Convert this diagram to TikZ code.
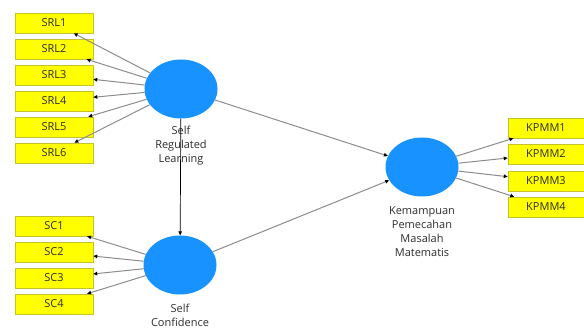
\documentclass[tikz,border=0pt]{standalone}
\usepackage{fontspec}
\setmainfont{Open Sans}
\usepackage{tikz}
\usetikzlibrary{arrows.meta,shapes.geometric}
\definecolor{lvblue}{RGB}{24,146,255}
\definecolor{indyellow}{RGB}{255,255,0}
\definecolor{indedge}{RGB}{196,196,40}
\definecolor{pathgray}{RGB}{140,140,140}
\definecolor{txtgray}{RGB}{45,45,45}

\begin{document}
\begin{tikzpicture}[x=1pt, y=-1pt,
      every node/.style={font=\fontsize{11}{14}\selectfont, text=txtgray},
      indbox/.style={draw=indedge, fill=indyellow, line width=0.5pt, minimum width=78pt, minimum height=20pt, inner sep=0pt},
      latent/.style={ellipse, fill=lvblue, minimum width=73pt, minimum height=59pt, inner sep=0pt},
      lvlabel/.style={align=center, inner sep=0pt},
      load/.style={-{Triangle[length=4pt, width=3.5pt, color=black]}, draw=pathgray, line width=1pt},
      inner/.style={-{Triangle[length=4pt, width=3.5pt, color=black]}, draw=pathgray, line width=1pt}
    ]
      \useasboundingbox (0,0) rectangle (584,331);

      % Latent variables
      \node[latent] (srl) at (181,89) {};
      \node[latent] (sc) at (180,265) {};
      \node[latent] (kpmm) at (422,167) {};

      % Labels under the latents
      \node[lvlabel] (srllab) at (181,146) {Self\\Regulated\\Learning};
      \node[lvlabel] (sclab) at (180,315) {Self\\Confidence};
      \node[lvlabel] (kpmmlab) at (422,232) {Kemampuan\\Pemecahan\\Masalah\\Matematis};

      % Indicators: Self Regulated Learning
      \node[indbox] (srl1) at (54,23) {SRL1};
      \node[indbox] (srl2) at (54,49) {SRL2};
      \node[indbox] (srl3) at (54,75) {SRL3};
      \node[indbox] (srl4) at (54,101) {SRL4};
      \node[indbox] (srl5) at (54,127) {SRL5};
      \node[indbox] (srl6) at (54,153) {SRL6};

      % Indicators: Self Confidence
      \node[indbox] (sc1) at (54,226) {SC1};
      \node[indbox] (sc2) at (54,252) {SC2};
      \node[indbox] (sc3) at (54,278) {SC3};
      \node[indbox] (sc4) at (54,304) {SC4};

      % Indicators: Kemampuan Pemecahan Masalah Matematis
      \node[indbox, minimum width=76pt] (kpmm1) at (546,128) {KPMM1};
      \node[indbox, minimum width=76pt] (kpmm2) at (546,154) {KPMM2};
      \node[indbox, minimum width=76pt] (kpmm3) at (546,181) {KPMM3};
      \node[indbox, minimum width=76pt] (kpmm4) at (546,207) {KPMM4};

      % Outer loadings
      \draw[load] (srl) -- (srl1);
      \draw[load] (srl) -- (srl2);
      \draw[load] (srl) -- (srl3);
      \draw[load] (srl) -- (srl4);
      \draw[load] (srl) -- (srl5);
      \draw[load] (srl) -- (srl6);
      \draw[load] (sc) -- (sc1);
      \draw[load] (sc) -- (sc2);
      \draw[load] (sc) -- (sc3);
      \draw[load] (sc) -- (sc4);
      \draw[load] (kpmm) -- (kpmm1);
      \draw[load] (kpmm) -- (kpmm2);
      \draw[load] (kpmm) -- (kpmm3);
      \draw[load] (kpmm) -- (kpmm4);

      % Inner paths
      \draw[inner, draw=black, line width=0.7pt] (srl) -- (sc);
      \draw[inner] (srl) -- (kpmm);
      \draw[inner] (sc) -- (kpmm);
    \end{tikzpicture}
\end{document}
